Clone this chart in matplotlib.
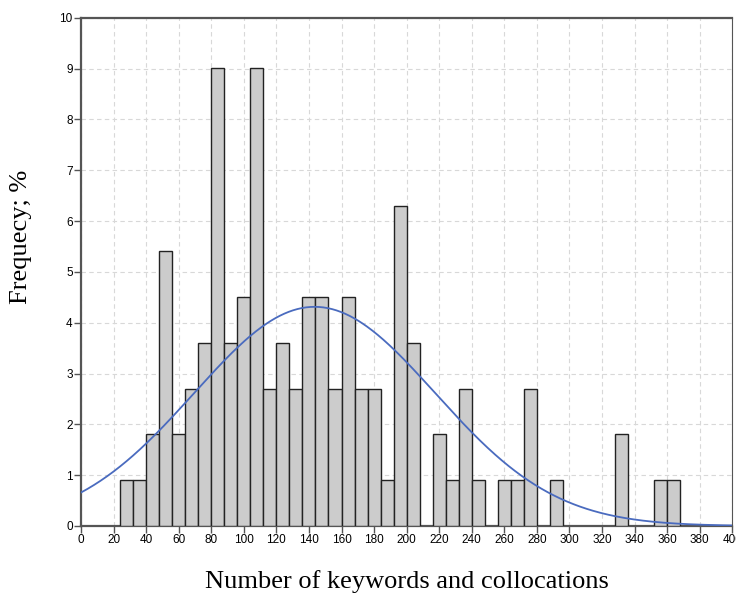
import numpy as np
import matplotlib
matplotlib.use("Agg")
import matplotlib.pyplot as plt

# Histogram bins (width 8) and counts (n = 111), heights shown as percent
bin_left_edges = [24, 32, 40, 48, 56, 64, 72, 80, 88, 96, 104, 112, 120, 128, 136, 144,
                  152, 160, 168, 176, 184, 192, 200, 216, 224, 232, 240, 256, 264, 272,
                  288, 328, 352, 360]
counts = [1, 1, 2, 6, 2, 3, 4, 10, 4, 5, 10, 3, 4, 3, 5, 5,
          3, 5, 3, 3, 1, 7, 4, 2, 1, 3, 1, 1, 1, 3,
          1, 2, 1, 1]
bin_width = 8
n_total = 111
curve_mean = 143.5
curve_sd = 74.0

x_ticks = list(range(0, 401, 20))
y_ticks = list(range(0, 11))

fig = plt.figure(figsize=(7.36, 5.95), dpi=100)
ax = fig.add_axes([0.110, 0.116, 0.885, 0.854])

percent = [c / n_total * 100 for c in counts]
ax.bar(bin_left_edges, percent, width=bin_width, align="edge",
       color="#cccccc", edgecolor="#222222", linewidth=1.0, zorder=3)

xs = np.linspace(0, 400, 600)
ys = (bin_width * 100 / (curve_sd * np.sqrt(2 * np.pi))
      * np.exp(-0.5 * ((xs - curve_mean) / curve_sd) ** 2))
ax.plot(xs, ys, color="#4a6bbf", linewidth=1.3, zorder=4)

ax.set_xlim(0, 400)
ax.set_ylim(0, 10)
ax.set_xticks(x_ticks)
ax.set_yticks(y_ticks)
ax.grid(True, color="#d8d8d8", linestyle=(0, (4, 3)), linewidth=0.8, zorder=0)
ax.set_axisbelow(True)

for lbl in ax.get_xticklabels() + ax.get_yticklabels():
    lbl.set_fontfamily("Liberation Sans")
    lbl.set_fontsize(8.5)
ax.tick_params(axis="both", direction="out", length=5, width=1.0,
               color="#555555", pad=1.0)
for s in ax.spines.values():
    s.set_color("#555555")
    s.set_linewidth(1.6)
ax.spines["right"].set_linewidth(0.8)

fig.text(21 / 736, 1 - 237 / 595, "Frequecy; %", fontfamily="Liberation Serif",
         fontsize=19, rotation=90, ha="center", va="center")
fig.text(0.5525, 1 - 582 / 595, "Number of keywords and collocations",
         fontfamily="Liberation Serif", fontsize=19, ha="center", va="center")

fig.savefig("out.png", dpi=100)
